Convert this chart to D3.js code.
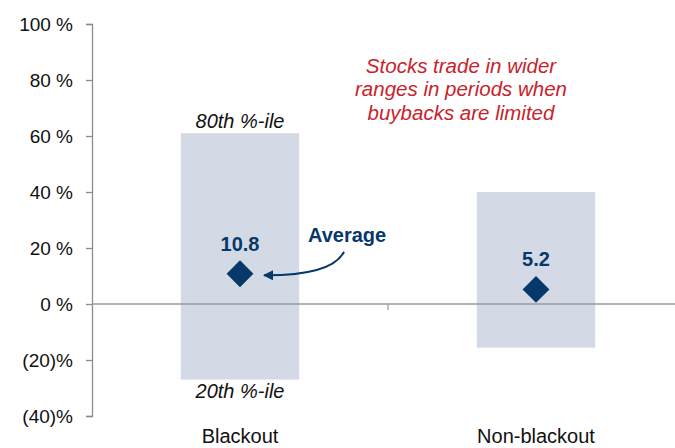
<!DOCTYPE html>
<html>
<head>
<meta charset="utf-8">
<script src="https://cdn.jsdelivr.net/npm/d3@7"></script>
<style>
  html, body { margin: 0; padding: 0; background: #fff; }
  svg { display: block; font-family: "Liberation Sans", Arial, sans-serif; }
  .axis path, .axis line { stroke: #8c8c8c; stroke-width: 1.3; }
  .axis text { font-size: 19px; fill: #111; }
</style>
</head>
<body>
<div id="chart"></div>
<script>
// ranges of returns between 20th and 80th percentile, plus the average
const categories = ['Blackout', 'Non-blackout']
const p80 = [61, 40]
const p20 = [-27, -15.6]
const averages = [10.8, 5.2]
const yTicks = [-40, -20, 0, 20, 40, 60, 80, 100]
const noteLines = ['Stocks trade in wider', 'ranges in periods when', 'buybacks are limited']

const W = 675, H = 448
const navy = '#06386a'
const boxFill = '#d3dae6'
const red = '#c8232c'

const svg = d3.select('#chart').append('svg')
    .attr('width', W)
    .attr('height', H)

const x = d3.scaleBand()
    .domain(categories)
    .range([92, 684])
    .padding(0)

const y = d3.scaleLinear()
    .domain([-40, 100])
    .range([416, 24])

const boxW = x.bandwidth() * 0.4
const cx = d => x(d) + x.bandwidth() / 2

// y axis
const yAxis = d3.axisLeft(y)
    .tickValues(yTicks)
    .tickSize(6)
    .tickPadding(13)
    .tickFormat(d => d < 0 ? `(${-d})%` : `${d} %`)

svg.append('g')
    .attr('class', 'axis')
    .attr('transform', 'translate(92,0)')
    .call(yAxis)

// percentile boxes
svg.selectAll('.box')
    .data(categories)
    .enter()
    .append('rect')
    .attr('class', 'box')
    .attr('x', d => cx(d) - boxW / 2)
    .attr('width', boxW)
    .attr('y', (d, i) => y(p80[i]))
    .attr('height', (d, i) => y(p20[i]) - y(p80[i]))
    .style('fill', boxFill)

// zero line + category separator tick
svg.append('line')
    .attr('x1', 92).attr('x2', 684)
    .attr('y1', y(0)).attr('y2', y(0))
    .style('stroke', '#999').style('stroke-width', 1.5)

svg.append('line')
    .attr('x1', x(categories[1])).attr('x2', x(categories[1]))
    .attr('y1', y(0)).attr('y2', y(0) + 6)
    .style('stroke', '#999').style('stroke-width', 1.2)

// average diamonds
svg.selectAll('.avg')
    .data(categories)
    .enter()
    .append('path')
    .attr('class', 'avg')
    .attr('d', d3.symbol(d3.symbolSquare, 360))
    .attr('transform', (d, i) => `translate(${cx(d)},${y(averages[i])}) rotate(45)`)
    .style('fill', navy)

svg.selectAll('.avg-label')
    .data(categories)
    .enter()
    .append('text')
    .attr('class', 'avg-label')
    .attr('x', cx)
    .attr('y', (d, i) => y(averages[i]) - 23)
    .attr('text-anchor', 'middle')
    .style('font-size', '20px')
    .style('font-weight', 'bold')
    .style('fill', navy)
    .text((d, i) => averages[i].toFixed(1))

// percentile labels on the first box
const b0 = categories[0]
svg.append('text')
    .attr('x', cx(b0)).attr('y', y(p80[0]) - 5)
    .attr('text-anchor', 'middle')
    .style('font-size', '20px').style('font-style', 'italic').style('fill', '#111')
    .text('80th %-ile')

svg.append('text')
    .attr('x', cx(b0)).attr('y', y(p20[0]) + 18)
    .attr('text-anchor', 'middle')
    .style('font-size', '20px').style('font-style', 'italic').style('fill', '#111')
    .text('20th %-ile')

// "Average" callout with curved arrow
const ax = cx(b0), ay = y(averages[0])
svg.append('defs').append('marker')
    .attr('id', 'head')
    .attr('viewBox', '0 0 10 10')
    .attr('refX', 9).attr('refY', 5)
    .attr('markerWidth', 5).attr('markerHeight', 5)
    .attr('orient', 'auto')
    .append('path')
    .attr('d', 'M0,0L10,5L0,10Z')
    .style('fill', navy)

svg.append('text')
    .attr('x', ax + 68).attr('y', ay - 32)
    .style('font-size', '20px').style('font-weight', 'bold').style('fill', navy)
    .text('Average')

svg.append('path')
    .attr('d', `M${ax + 104},${ay - 22} Q${ax + 92},${ay + 2} ${ax + 24},${ay + 1.5}`)
    .attr('marker-end', 'url(#head)')
    .style('fill', 'none')
    .style('stroke', navy)
    .style('stroke-width', 2)

// red note
svg.append('text')
    .attr('x', 461).attr('y', 73)
    .attr('text-anchor', 'middle')
    .style('font-size', '20.5px').style('font-style', 'italic').style('fill', red)
    .selectAll('tspan')
    .data(noteLines)
    .enter()
    .append('tspan')
    .attr('x', 461)
    .attr('dy', (d, i) => i ? 23.4 : 0)
    .text(d => d)

// category labels
svg.selectAll('.cat')
    .data(categories)
    .enter()
    .append('text')
    .attr('class', 'cat')
    .attr('x', cx)
    .attr('y', 443)
    .attr('text-anchor', 'middle')
    .style('font-size', '20px')
    .style('fill', '#111')
    .text(d => d)
</script>
</body>
</html>
